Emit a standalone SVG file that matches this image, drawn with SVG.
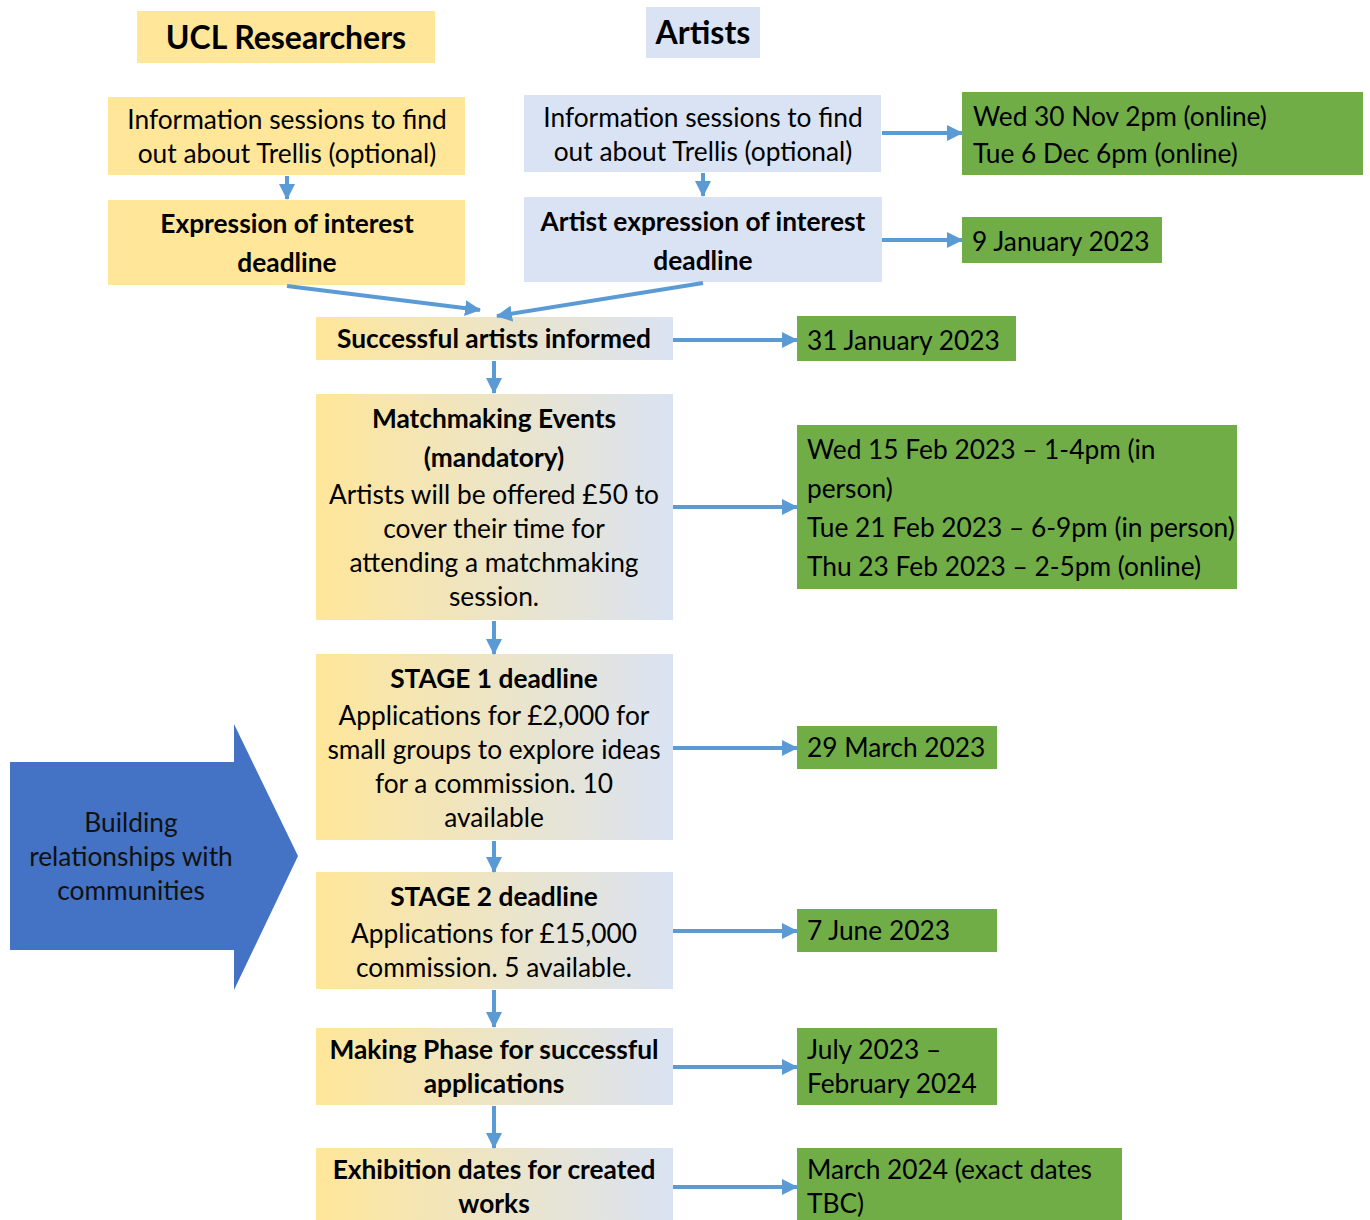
<svg xmlns="http://www.w3.org/2000/svg" width="1370" height="1220" viewBox="0 0 1370 1220">
<style>
text{font-family:Lato,"Open Sans","Liberation Sans",sans-serif;font-size:26.3px;fill:#000}
.b{font-weight:bold}
.h{font-size:32px;font-weight:bold}
.c{text-anchor:middle}
.y{fill:#FFE699}
.bl{fill:#DAE3F3}
.g{fill:#70AD47}
.gr{fill:url(#grad)}
.con line{stroke:#5B9BD5;stroke-width:4;marker-end:url(#ah)}
</style>
<defs>
<linearGradient id="grad" x1="0" y1="0" x2="1" y2="0">
<stop offset="0" stop-color="#FFE699"/>
<stop offset="1" stop-color="#DAE3F3"/>
</linearGradient>
<marker id="ah" markerUnits="userSpaceOnUse" markerWidth="16" markerHeight="16" viewBox="0 0 16 16" refX="15" refY="8" orient="auto">
<path d="M0,0 L16,8 L0,16 Z" fill="#5B9BD5"/>
</marker>
</defs>
<rect width="1370" height="1220" fill="#fff"/>
<g id="ucl-title"><rect class="y" x="137" y="11" width="298" height="52"/><text class="h c" x="286" y="49">UCL Researchers</text></g>
<g id="artists-title"><rect class="bl" x="646" y="7" width="114" height="51"/><text class="h c" x="703" y="44">Artists</text></g>
<g id="ucl-info"><rect class="y" x="108" y="97" width="357" height="78"/><text class="c" x="287" y="129">Information sessions to find</text><text class="c" x="287" y="163">out about Trellis (optional)</text></g>
<g id="ucl-eoi"><rect class="y" x="108" y="200" width="357" height="85"/><text class="b c" x="287" y="233">Expression of interest</text><text class="b c" x="287" y="272">deadline</text></g>
<g id="artist-info"><rect class="bl" x="524" y="95" width="357" height="77"/><text class="c" x="703" y="127">Information sessions to find</text><text class="c" x="703" y="161">out about Trellis (optional)</text></g>
<g id="artist-eoi"><rect class="bl" x="524" y="197" width="358" height="85"/><text class="b c" x="703" y="231">Artist expression of interest</text><text class="b c" x="703" y="270">deadline</text></g>
<g id="date-info"><rect class="g" x="962" y="92" width="401" height="83"/><text x="973" y="126">Wed 30 Nov 2pm (online)</text><text x="973" y="163">Tue 6 Dec 6pm (online)</text></g>
<g id="date-eoi"><rect class="g" x="962" y="217" width="200" height="46"/><text x="972" y="251">9 January 2023</text></g>
<g id="informed"><rect class="gr" x="316" y="317" width="357" height="43"/><text class="b c" x="494" y="348">Successful artists informed</text></g>
<g id="date-informed"><rect class="g" x="797" y="316" width="219" height="45"/><text x="807" y="350">31 January 2023</text></g>
<g id="matchmaking"><rect class="gr" x="316" y="394" width="357" height="226"/><text class="b c" x="494" y="428">Matchmaking Events</text><text class="b c" x="494" y="467">(mandatory)</text><text class="c" x="494" y="504">Artists will be offered £50 to</text><text class="c" x="494" y="538">cover their time for</text><text class="c" x="494" y="572">attending a matchmaking</text><text class="c" x="494" y="606">session.</text></g>
<g id="date-matchmaking"><rect class="g" x="797" y="425" width="440" height="164"/><text x="807" y="459">Wed 15 Feb 2023 – 1-4pm (in</text><text x="807" y="498">person)</text><text x="807" y="537">Tue 21 Feb 2023 – 6-9pm (in person)</text><text x="807" y="576">Thu 23 Feb 2023 – 2-5pm (online)</text></g>
<g id="stage1"><rect class="gr" x="316" y="654" width="357" height="186"/><text class="b c" x="494" y="688">STAGE 1 deadline</text><text class="c" x="494" y="725">Applications for £2,000 for</text><text class="c" x="494" y="759">small groups to explore ideas</text><text class="c" x="494" y="793">for a commission. 10</text><text class="c" x="494" y="827">available</text></g>
<g id="date-stage1"><rect class="g" x="797" y="726" width="200" height="43"/><text x="807" y="757">29 March 2023</text></g>
<g id="stage2"><rect class="gr" x="316" y="872" width="357" height="117"/><text class="b c" x="494" y="906">STAGE 2 deadline</text><text class="c" x="494" y="943">Applications for £15,000</text><text class="c" x="494" y="977">commission. 5 available.</text></g>
<g id="date-stage2"><rect class="g" x="797" y="909" width="200" height="43"/><text x="807" y="940">7 June 2023</text></g>
<g id="making"><rect class="gr" x="316" y="1028" width="357" height="77"/><text class="b c" x="494" y="1059">Making Phase for successful</text><text class="b c" x="494" y="1093">applications</text></g>
<g id="date-making"><rect class="g" x="797" y="1028" width="200" height="77"/><text x="807" y="1059">July 2023 –</text><text x="807" y="1093">February 2024</text></g>
<g id="exhibition"><rect class="gr" x="316" y="1148" width="357" height="72"/><text class="b c" x="494" y="1179">Exhibition dates for created</text><text class="b c" x="494" y="1213">works</text></g>
<g id="date-exhibition"><rect class="g" x="797" y="1148" width="325" height="72"/><text x="807" y="1179">March 2024 (exact dates</text><text x="807" y="1213">TBC)</text></g>
<g id="building"><polygon points="10,762 234,762 234,724 298,856 234,990 234,950 10,950" fill="#4472C4"/><text class="c" x="131" y="832" style="fill:#111">Building</text><text class="c" x="131" y="866" style="fill:#111">relationships with</text><text class="c" x="131" y="900" style="fill:#111">communities</text></g>
<g id="connectors" class="con">
<line x1="287" y1="176" x2="287" y2="199"/>
<line x1="703" y1="173" x2="703" y2="196"/>
<line x1="882" y1="133" x2="962" y2="133"/>
<line x1="882" y1="240" x2="962" y2="240"/>
<line x1="287" y1="286" x2="480" y2="310"/>
<line x1="703" y1="283" x2="497" y2="316"/>
<line x1="673" y1="340" x2="797" y2="340"/>
<line x1="494" y1="361" x2="494" y2="393"/>
<line x1="673" y1="507" x2="797" y2="507"/>
<line x1="494" y1="621" x2="494" y2="654"/>
<line x1="673" y1="748" x2="797" y2="748"/>
<line x1="494" y1="841" x2="494" y2="872"/>
<line x1="673" y1="931" x2="797" y2="931"/>
<line x1="494" y1="990" x2="494" y2="1027"/>
<line x1="673" y1="1067" x2="797" y2="1067"/>
<line x1="494" y1="1106" x2="494" y2="1148"/>
<line x1="673" y1="1187" x2="797" y2="1187"/>
</g>
</svg>
